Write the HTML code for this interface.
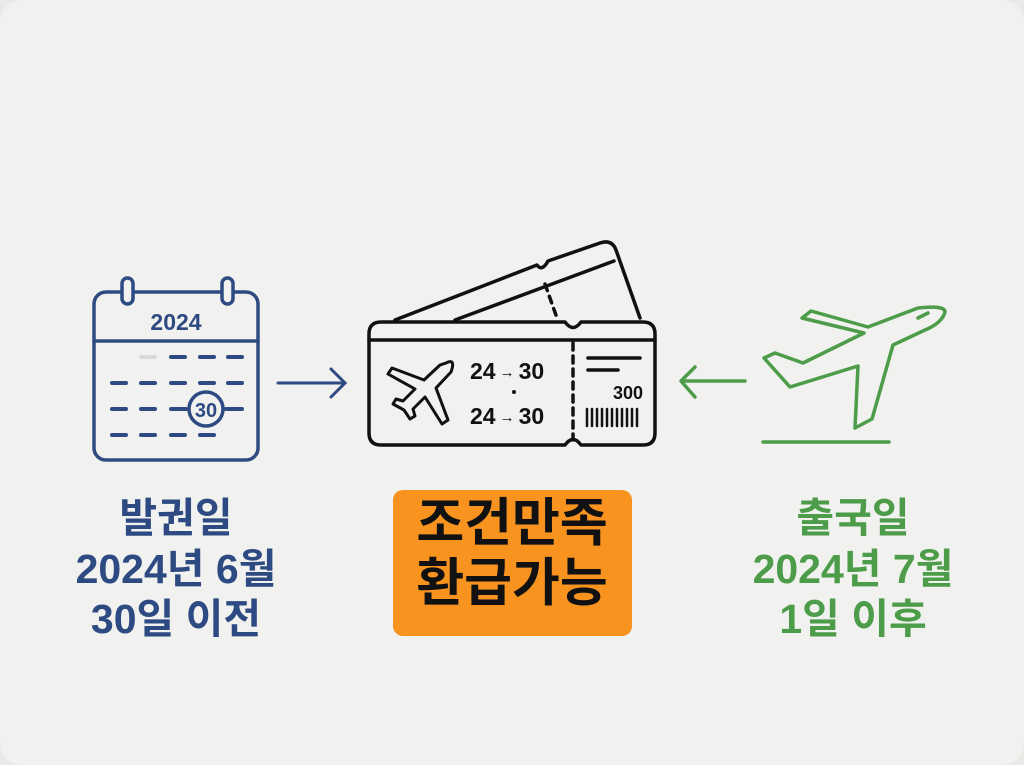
<!DOCTYPE html>
<html><head><meta charset="utf-8"><style>
html,body{margin:0;padding:0;background:#e9e9e7;}
svg{display:block}
text{font-family:"Liberation Sans","Noto Sans CJK KR",sans-serif;font-weight:bold}
</style></head><body>
<svg width="1024" height="765" viewBox="0 0 1024 765" xmlns="http://www.w3.org/2000/svg">
<rect x="0" y="0" width="1024" height="765" rx="22" fill="#f1f1ef"/>
<!-- calendar -->
<g stroke="#2d4a82" stroke-width="3.5" fill="none" stroke-linecap="round">
<rect x="94" y="292" width="164" height="168" rx="12"/>
<line x1="94" y1="341" x2="258" y2="341"/>
<rect x="122" y="278" width="11" height="26" rx="5.5" fill="#f1f1ef"/>
<rect x="222" y="278" width="11" height="26" rx="5.5" fill="#f1f1ef"/>
<g stroke-width="4">
<line x1="171" y1="357" x2="185" y2="357"/><line x1="200" y1="357" x2="214" y2="357"/><line x1="228" y1="357" x2="242" y2="357"/>
<line x1="112" y1="383" x2="126" y2="383"/><line x1="141" y1="383" x2="155" y2="383"/><line x1="171" y1="383" x2="185" y2="383"/><line x1="200" y1="383" x2="214" y2="383"/><line x1="228" y1="383" x2="242" y2="383"/>
<line x1="112" y1="409" x2="126" y2="409"/><line x1="141" y1="409" x2="155" y2="409"/><line x1="171" y1="409" x2="186" y2="409"/><line x1="226" y1="409" x2="242" y2="409"/>
<line x1="112" y1="435" x2="126" y2="435"/><line x1="141" y1="435" x2="155" y2="435"/><line x1="171" y1="435" x2="185" y2="435"/><line x1="200" y1="435" x2="214" y2="435"/>
</g>
<line x1="141" y1="357" x2="155" y2="357" stroke="#d8dae0" stroke-width="4"/>
<circle cx="206" cy="409" r="17"/>
<line x1="278" y1="383" x2="345" y2="383" stroke-width="3"/>
<polyline points="331,369 345,383 331,397" stroke-width="3"/>
</g>
<text x="176" y="330" font-size="23" fill="#2d4a82" text-anchor="middle">2024</text>
<text x="206" y="417" font-size="20" fill="#2d4a82" text-anchor="middle" font-weight="normal">30</text>
<!-- ticket -->
<g stroke="#111" stroke-width="3.5" fill="none" stroke-linecap="round" stroke-linejoin="round">
<path d="M395,320 L537,265 Q542,272 548,261 L600,243 Q612,239 616,250 L640,318"/>
<line x1="455" y1="320" x2="614" y2="261"/>
<line x1="545" y1="284" x2="557" y2="318" stroke-dasharray="7,6"/>
<path d="M381,322 L565,322 Q573,333 581,322 L643,322 Q655,322 655,334 L655,433 Q655,445 643,445 L581,445 Q573,434 565,445 L381,445 Q369,445 369,433 L369,334 Q369,322 381,322 Z" fill="#f1f1ef"/>
<line x1="369" y1="340" x2="655" y2="340"/>
<line x1="573" y1="343" x2="573" y2="440" stroke-dasharray="7,6"/>
<line x1="588" y1="358" x2="640" y2="358"/><line x1="588" y1="370" x2="618" y2="370"/>
<g stroke-width="2.5"><line x1="587" y1="409" x2="587" y2="426"/><line x1="592" y1="409" x2="592" y2="426"/><line x1="597" y1="409" x2="597" y2="426"/><line x1="602" y1="409" x2="602" y2="426"/><line x1="607" y1="409" x2="607" y2="426"/><line x1="612" y1="409" x2="612" y2="426"/><line x1="617" y1="409" x2="617" y2="426"/><line x1="622" y1="409" x2="622" y2="426"/><line x1="627" y1="409" x2="627" y2="426"/><line x1="632" y1="409" x2="632" y2="426"/><line x1="637" y1="409" x2="637" y2="426"/></g>
<path d="M446,363 Q456,358 451,372 L436,388 L448,420 L442,424 L425,397 L413,409 L415,416 L410,419 L404,410 L393,404 L396,399 L403,401 L415,389 L388,374 L392,368 L424,380 L440,365 Z" stroke-width="3"/>
</g>
<text x="470" y="379" font-size="23" fill="#111">24<tspan font-size="15" dx="4" dy="-2">→</tspan><tspan dx="4" dy="2">30</tspan></text>
<circle cx="514" cy="392" r="2" fill="#111"/>
<text x="470" y="424" font-size="23" fill="#111">24<tspan font-size="15" dx="4" dy="-2">→</tspan><tspan dx="4" dy="2">30</tspan></text>
<text x="643" y="399" font-size="18" fill="#111" text-anchor="end">300</text>
<!-- green -->
<g stroke="#4c9c49" stroke-width="3.5" fill="none" stroke-linecap="round" stroke-linejoin="round">
<line x1="682" y1="381" x2="745" y2="381"/>
<polyline points="695,367 681,381 695,397"/>
<line x1="763" y1="442" x2="889" y2="442"/>
<path d="M764,358 L775,353 L803,363 L864,333 L802,318 L811,311 L868,327 L918,308 Q945,305 945,312 Q942,323 925,330 L893,345 L872,419 L855,428 L858,366 L790,387 Z"/>
<line x1="918" y1="318" x2="928" y2="313"/>
</g>
<!-- labels -->
<g font-size="41" fill="#2d4a82" text-anchor="middle">
<text x="176" y="532">발권일</text><text x="176" y="583">2024년 6월</text><text x="176" y="633">30일 이전</text>
</g>
<rect x="393" y="490" width="239" height="146" rx="10" fill="#f7931e"/>
<g font-size="52" fill="#111" text-anchor="middle">
<text x="512" y="541">조건만족</text><text x="512" y="601">환급가능</text>
</g>
<g font-size="41" fill="#4c9c49" text-anchor="middle">
<text x="853" y="532">출국일</text><text x="853" y="583">2024년 7월</text><text x="853" y="633">1일 이후</text>
</g>
</svg>
</body></html>
